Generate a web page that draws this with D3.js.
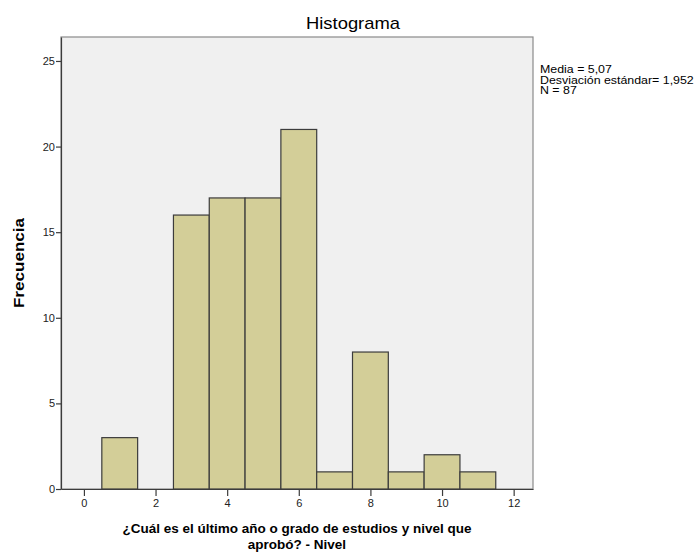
<!DOCTYPE html>
<html>
<head>
<meta charset="utf-8">
<script src="https://cdn.jsdelivr.net/npm/d3@7"></script>
<style>
  body { margin: 0; background: #fff; }
  text { font-family: "Liberation Sans", Arial, sans-serif; }
</style>
</head>
<body>
<div id="chart"></div>
<script>
// data
var binCenters = [1, 3, 4, 5, 6, 7, 8, 9, 10, 11];
var counts = [3, 16, 17, 17, 21, 1, 8, 1, 2, 1];
var xTicks = [0, 2, 4, 6, 8, 10, 12];
var yTicks = [0, 5, 10, 15, 20, 25];
var statsLines = ["Media = 5,07", "Desviación estándar= 1,952", "N = 87"];

var width = 699, height = 555;
var margin = { left: 61, right: 166, top: 37, bottom: 66 };
var w = width - margin.left - margin.right,
    h = height - margin.top - margin.bottom;

var svg = d3.select("#chart").append("svg")
  .attr("width", width)
  .attr("height", height);

// title (slightly wide, like the original render)
svg.append("text")
  .attr("transform", "translate(353,29) scale(1.15,1)")
  .attr("text-anchor", "middle")
  .attr("font-size", "16px")
  .attr("fill", "#000")
  .text("Histograma");

var g = svg.append("g")
  .attr("transform", "translate(" + margin.left + "," + margin.top + ")");

var x = d3.scaleLinear().domain([-0.64, 12.54]).range([0, w]);
var y = d3.scaleLinear().domain([0, 26.4]).range([h, 0]);

// background
g.append("rect")
  .attr("width", w)
  .attr("height", h)
  .attr("fill", "#f0f0f0")
  .attr("stroke", "#8a8a8a")
  .attr("stroke-width", 1.2);

// bars
g.selectAll(".bar")
  .data(binCenters)
  .enter()
  .append("rect")
    .attr("class", "bar")
    .attr("x", function(d){ return x(d - 0.5); })
    .attr("width", function(d){ return x(d + 0.5) - x(d - 0.5); })
    .attr("y", function(d, i){ return y(counts[i]); })
    .attr("height", function(d, i){ return y(0) - y(counts[i]); })
    .attr("fill", "#d3ce98")
    .attr("stroke", "#3c3c3c")
    .attr("stroke-width", 1.2);

// axes
var xAxisCall = d3.axisBottom(x)
  .tickValues(xTicks)
  .tickSize(7)
  .tickSizeOuter(0)
  .tickFormat(d3.format("d"));
var xAxis = g.append("g")
  .attr("class", "x-axis")
  .attr("transform", "translate(0," + h + ")")
  .call(xAxisCall);
xAxis.select(".domain").attr("stroke", "#3c3c3c").attr("stroke-width", 1.2);
xAxis.selectAll(".tick line").attr("stroke", "#3c3c3c").attr("stroke-width", 1.2);
xAxis.selectAll("text")
  .attr("font-size", "11px")
  .attr("fill", "#222")
  .attr("y", 10);

var yAxisCall = d3.axisLeft(y)
  .tickValues(yTicks)
  .tickSize(5)
  .tickSizeOuter(0)
  .tickFormat(d3.format("d"));
var yAxis = g.append("g")
  .attr("class", "y-axis")
  .call(yAxisCall);
yAxis.select(".domain").attr("stroke", "#3c3c3c").attr("stroke-width", 1.2);
yAxis.selectAll(".tick line").attr("stroke", "#3c3c3c").attr("stroke-width", 1.2);
yAxis.selectAll("text")
  .attr("font-size", "11px")
  .attr("fill", "#222")
  .attr("x", -6);

// axis labels
var xLabel = svg.append("text")
  .attr("text-anchor", "middle")
  .attr("font-size", "13.5px")
  .attr("font-weight", "bold")
  .attr("fill", "#000");
xLabel.append("tspan")
  .attr("x", margin.left + w / 2)
  .attr("y", 533)
  .text("¿Cuál es el último año o grado de estudios y nivel que");
xLabel.append("tspan")
  .attr("x", margin.left + w / 2)
  .attr("y", 549)
  .text("aprobó? - Nivel");

svg.append("text")
  .attr("transform", "translate(24," + (margin.top + h / 2) + ") rotate(-90) scale(1.22,1)")
  .attr("text-anchor", "middle")
  .attr("font-size", "14px")
  .attr("font-weight", "bold")
  .attr("fill", "#000")
  .text("Frecuencia");

// stats
svg.selectAll(".stat")
  .data(statsLines)
  .enter()
  .append("text")
    .attr("class", "stat")
    .attr("transform", function(d, i){ return "translate(540," + (73 + i * 10.5) + ") scale(1.18,1)"; })
    .attr("font-size", "10.5px")
    .attr("fill", "#000")
    .text(function(d){ return d; });
</script>
</body>
</html>
